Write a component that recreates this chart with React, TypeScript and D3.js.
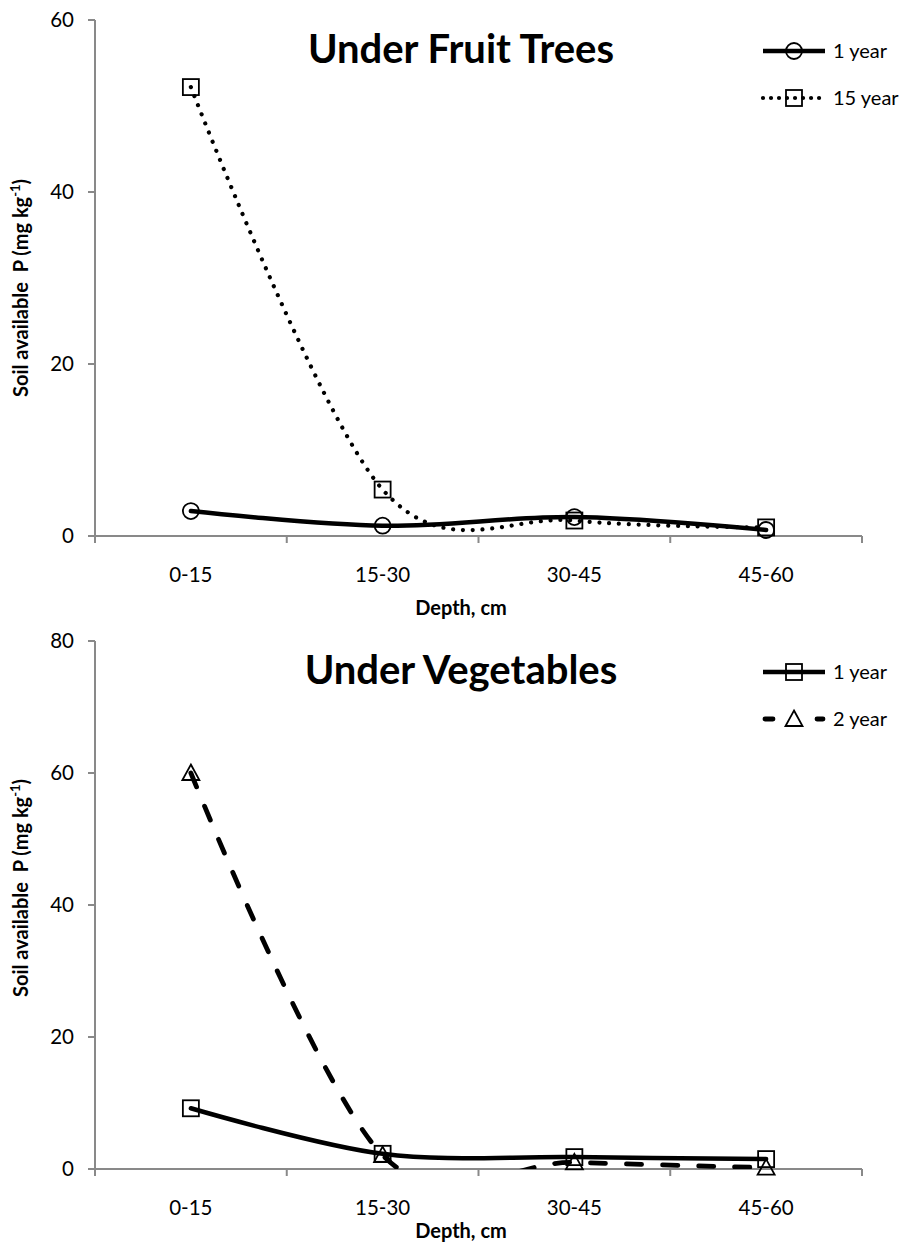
import React from "react";
import * as d3 from "d3";

const categories = ["0-15", "15-30", "30-45", "45-60"];
const fruit1Year = [2.9, 1.2, 2.2, 0.7];
const fruit15Year = [52.2, 5.4, 1.8, 1.0];
const veg1Year = [9.2, 2.3, 1.8, 1.5];
const veg2Year = [60.0, 2.1, 1.0, 0.2];
const fruitTicks = [0, 20, 40, 60];
const vegTicks = [0, 20, 40, 60, 80];

const FONT = "Lato, Carlito, Calibri, sans-serif";
const AXIS = "#898989";

type Marker = "circle" | "square" | "triangle";
type Style = "solid" | "dotted" | "dashed";
interface Series { name: string; values: number[]; marker: Marker; style: Style; }

function MarkerShape({ kind, cx, cy }: { kind: Marker; cx: number; cy: number }) {
  const common = { fill: "none", stroke: "#000", strokeWidth: 1.8 };
  if (kind === "circle") return <circle cx={cx} cy={cy} r={8} {...common} />;
  if (kind === "square") return <rect x={cx - 8} y={cy - 8} width={16} height={16} {...common} />;
  return <path d={`M${cx},${cy - 8.5}L${cx + 8.5},${cy + 7}L${cx - 8.5},${cy + 7}Z`} {...common} />;
}

function lineStyle(style: Style, legend = false) {
  if (style === "solid") return { strokeWidth: 4.5, strokeDasharray: undefined as string | undefined, strokeLinecap: "round" as const };
  if (style === "dotted") return { strokeWidth: 4.2, strokeDasharray: legend ? "0.01 8" : "0.01 9.8", strokeLinecap: "round" as const };
  return { strokeWidth: 4.8, strokeDasharray: legend ? "8 44" : "15 21", strokeLinecap: "round" as const };
}

interface PanelProps {
  id: string; title: string; top: number; bottom: number; yMax: number; ticks: number[];
  series: Series[]; titleBaseline: number; axisTitleStart: number; xTitleBaseline: number;
  legendY: number[];
}

function Panel(p: PanelProps) {
  const left = 95, right = 862;
  const x = d3.scaleBand().domain(categories).range([left, right]);
  const bw = x.bandwidth();
  const y = d3.scaleLinear().domain([0, p.yMax]).range([p.bottom, p.top]);
  const cx = (c: string) => (x(c) as number) + bw / 2;
  const line = d3.line<number>().x((_, i) => cx(categories[i])).y((v) => y(v)).curve(d3.curveCardinal.tension(0));
  const boundaries = d3.range(categories.length + 1).map((i) => left + i * bw);
  return (
    <g>
      <defs>
        <clipPath id={`clip-${p.id}`}>
          <rect x={left} y={p.top - 10} width={right - left + 20} height={p.bottom - p.top + 10} />
        </clipPath>
      </defs>
      <line x1={left} x2={left} y1={p.top} y2={p.bottom} stroke={AXIS} strokeWidth={2} />
      <line x1={left} x2={right} y1={p.bottom} y2={p.bottom} stroke={AXIS} strokeWidth={2} />
      {p.ticks.map((t) => (
        <g key={t}>
          <line x1={left - 7} x2={left} y1={y(t)} y2={y(t)} stroke={AXIS} strokeWidth={2} />
          <text x={74} y={y(t)} dy="0.36em" textAnchor="end" fontFamily={FONT} fontSize={20.5}>{t}</text>
        </g>
      ))}
      {boundaries.map((b, i) => (
        <line key={i} x1={b} x2={b} y1={p.bottom} y2={p.bottom + 7} stroke={AXIS} strokeWidth={2} />
      ))}
      {categories.map((c) => (
        <text key={c} x={cx(c)} y={p.bottom + 46} textAnchor="middle" fontFamily={FONT} fontSize={20.5}>{c}</text>
      ))}
      <text x={461} y={p.xTitleBaseline} textAnchor="middle" fontFamily={FONT} fontWeight="bold" fontSize={20}>Depth, cm</text>
      <text transform={`translate(28,${p.axisTitleStart}) rotate(-90)`} fontFamily={FONT} fontWeight="bold" fontSize={20} xmlSpace="preserve">
        {"Soil available  P (mg kg"}
        <tspan fontSize={13} dy={-8}>-1</tspan>
        <tspan dy={8}>)</tspan>
      </text>
      <text x={461} y={p.titleBaseline} textAnchor="middle" fontFamily={FONT} fontWeight="bold" fontSize={40}>{p.title}</text>
      {p.series.map((s) => {
        const ls = lineStyle(s.style);
        return (
          <g key={s.name}>
            <path d={line(s.values) || ""} fill="none" stroke="#000" clipPath={`url(#clip-${p.id})`}
              strokeWidth={ls.strokeWidth} strokeDasharray={ls.strokeDasharray} strokeLinecap={ls.strokeLinecap} strokeLinejoin="round" />
            {s.values.map((v, i) => (
              <MarkerShape key={i} kind={s.marker} cx={cx(categories[i])} cy={y(v)} />
            ))}
          </g>
        );
      })}
      {p.series.map((s, i) => {
        const ly = p.legendY[i];
        const ls = lineStyle(s.style, true);
        return (
          <g key={`lg-${s.name}`}>
            <line x1={s.style === "dashed" ? 765 : 763} x2={s.style === "dashed" ? 823 : 825} y1={ly} y2={ly} stroke="#000" strokeWidth={ls.strokeWidth}
              strokeDasharray={ls.strokeDasharray} strokeLinecap={s.style === "solid" ? "butt" : "round"} />
            <MarkerShape kind={s.marker} cx={794} cy={ly} />
            <text x={833} y={ly} dy="0.36em" fontFamily={FONT} fontSize={20}>{s.name}</text>
          </g>
        );
      })}
    </g>
  );
}

export default function App() {
  const fruitSeries: Series[] = [
    { name: "1 year", values: fruit1Year, marker: "circle", style: "solid" },
    { name: "15 year", values: fruit15Year, marker: "square", style: "dotted" },
  ];
  const vegSeries: Series[] = [
    { name: "1 year", values: veg1Year, marker: "square", style: "solid" },
    { name: "2 year", values: veg2Year, marker: "triangle", style: "dashed" },
  ];
  return (
    <svg width={906} height={1244} style={{ position: "absolute", left: 0, top: 0, background: "#fff" }}>
      <rect width={906} height={1244} fill="#fff" />
      <Panel id="fruit" title="Under Fruit Trees" top={20} bottom={536} yMax={60} ticks={fruitTicks}
        series={fruitSeries} titleBaseline={63} axisTitleStart={397} xTitleBaseline={615} legendY={[51, 98]} />
      <Panel id="veg" title="Under Vegetables" top={641} bottom={1169} yMax={80} ticks={vegTicks}
        series={vegSeries} titleBaseline={684} axisTitleStart={997} xTitleBaseline={1238} legendY={[672, 719]} />
    </svg>
  );
}
